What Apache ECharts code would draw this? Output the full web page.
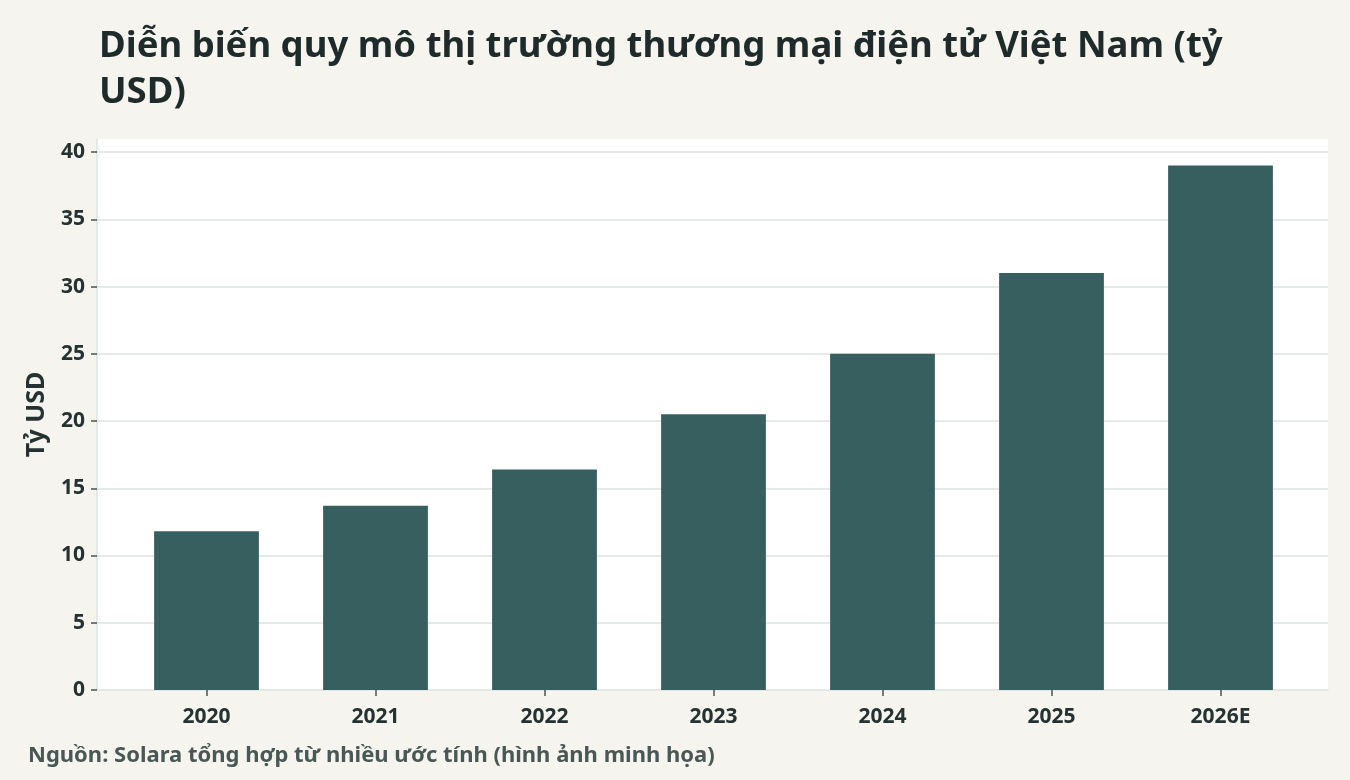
<!DOCTYPE html>
<html>
<head>
<meta charset="utf-8">
<script src="https://cdn.jsdelivr.net/npm/echarts@6/dist/echarts.min.js"></script>
<style>
html,body{margin:0;padding:0;background:#f5f4ef;}
#c{width:1350px;height:780px;}
</style>
</head>
<body>
<div id="c"></div>
<script>
const titleText = 'Diễn biến quy mô thị trường thương mại điện tử Việt Nam (tỷ\nUSD)';
const sourceText = 'Nguồn: Solara tổng hợp từ nhiều ước tính (hình ảnh minh họa)';
const yAxisName = 'Tỷ USD';
const categories = ['2020', '2021', '2022', '2023', '2024', '2025', '2026E'];
const values = [11.8, 13.7, 16.4, 20.5, 25.0, 31.0, 39.0];
const yMin = 0;
const yMax = 40.97;
const yInterval = 5;

const FONT = '"Noto Sans"';
const TEXT = '#263232';
const GRIDC = '#dde3e2';
const BAR = '#375f5f';

const chart = echarts.init(document.getElementById('c'));
chart.setOption({
  backgroundColor: '#f5f4ef',
  animation: false,
  title: [{
    text: titleText,
    left: 94, top: 19,
    textStyle: { fontFamily: FONT, fontSize: 36.5, fontWeight: 'bold', color: '#1f2b2b', lineHeight: 46 }
  }, {
    text: sourceText,
    left: 23, top: 740,
    textStyle: { fontFamily: FONT, fontSize: 22, fontWeight: 'bold', color: '#4a5757' }
  }],
  grid: [
    { left: 97, right: 22, top: 139, bottom: 90, show: true, backgroundColor: '#ffffff', borderWidth: 0 },
    { left: 122, right: 45, top: 139, bottom: 90 }
  ],
  xAxis: [
    { gridIndex: 0, type: 'value', min: 0, max: 1,
      axisLine: { show: true, lineStyle: { color: GRIDC, width: 1.5 } },
      axisTick: { show: false }, axisLabel: { show: false }, splitLine: { show: false } },
    { gridIndex: 1, type: 'category', data: categories,
      axisLine: { show: false },
      axisTick: { show: true, alignWithLabel: true, length: 6, lineStyle: { color: '#4a5353', width: 1.5 } },
      axisLabel: { fontFamily: FONT, fontSize: 21, fontWeight: 'bold', color: TEXT, margin: 17 } }
  ],
  yAxis: [
    { gridIndex: 0, type: 'value', min: yMin, max: yMax, interval: yInterval,
      name: yAxisName, nameLocation: 'middle', nameGap: 48,
      nameTextStyle: { fontFamily: FONT, fontSize: 25, fontWeight: 'bold', color: TEXT },
      axisLine: { show: true, lineStyle: { color: GRIDC, width: 1.5 } },
      axisTick: { show: true, length: 6, lineStyle: { color: '#4a5353', width: 1.5 } },
      axisLabel: { fontFamily: FONT, fontSize: 21, fontWeight: 'bold', color: TEXT, margin: 12, showMaxLabel: false },
      splitLine: { show: true, showMinLine: false, showMaxLine: false, lineStyle: { color: GRIDC, width: 1.5 } } },
    { gridIndex: 1, type: 'value', min: yMin, max: yMax, show: false, splitLine: { show: false } }
  ],
  series: [{
    type: 'bar', xAxisIndex: 1, yAxisIndex: 1,
    data: values, barWidth: '62%',
    itemStyle: { color: BAR }
  }]
});
</script>
</body>
</html>
